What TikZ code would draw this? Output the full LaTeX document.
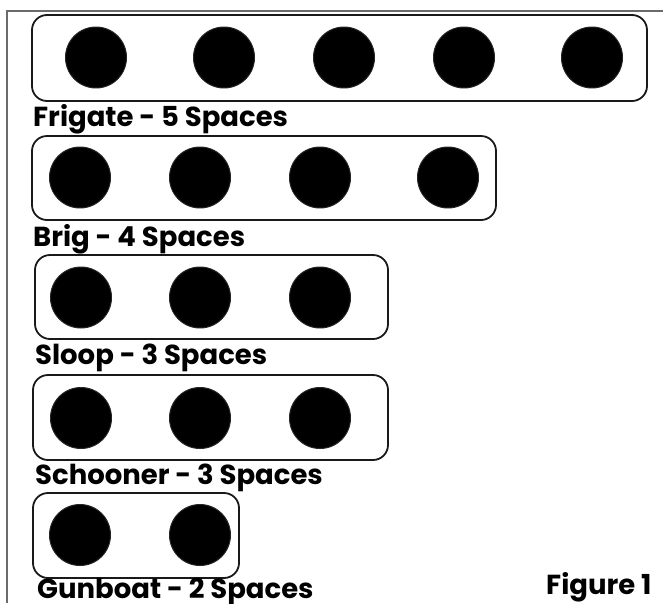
\documentclass[tikz,border=0pt]{standalone}
\usepackage{fontspec}
\setmainfont{Poppins}
\begin{document}
\begin{tikzpicture}[x=1pt,y=-1pt,
  hole/.style={circle, fill=black, draw=black!85, line width=1pt, minimum size=61pt, inner sep=0pt},
  ship/.style={draw=black!90, line width=1.8pt, rounded corners=15pt, inner sep=0pt},
  lbl/.style={anchor=base west, inner sep=0pt, font=\fontsize{27.5}{32}\selectfont\bfseries}]
\useasboundingbox (0,0) rectangle (663,603);
\coordinate (fbl) at (7,603);
\coordinate (ftl) at (7,11);
\coordinate (ftr) at (663,11);
\draw[draw=black!58, line width=2.4pt] (fbl) -- (ftl) -- (ftr);

% Frigate
\node[ship, minimum width=615pt, minimum height=86pt] (frigate) at (339.5,58) {};
\foreach \x [count=\i] in {96,224,344,464,592}
  \node[hole] (f\i) at (\x,57.5) {};
\node[lbl] (lf) at (33,126) {Frigate - 5 Spaces};

% Brig
\node[ship, minimum width=464pt, minimum height=84pt] (brig) at (264,178) {};
\foreach \x [count=\i] in {80,200,320,448}
  \node[hole] (b\i) at (\x,177.5) {};
\node[lbl] (lb) at (33,246) {Brig - 4 Spaces};

% Sloop
\node[ship, minimum width=353pt, minimum height=84pt] (sloop) at (211.5,297) {};
\foreach \x [count=\i] in {81,200,320}
  \node[hole] (s\i) at (\x,297.5) {};
\node[lbl] (ls) at (35,364) {Sloop - 3 Spaces};

% Schooner
\node[ship, minimum width=355pt, minimum height=85pt] (schooner) at (210.5,417.5) {};
\foreach \x [count=\i] in {81,200,320}
  \node[hole] (c\i) at (\x,418) {};
\node[lbl] (lc) at (35,484) {Schooner - 3 Spaces};

% Gunboat
\node[ship, minimum width=206pt, minimum height=85pt] (gunboat) at (136,535.5) {};
\foreach \x [count=\i] in {80,200}
  \node[hole] (g\i) at (\x,535) {};
\node[lbl] (lg) at (37,598) {Gunboat - 2 Spaces};

\node[lbl] (fig) at (546,594) {Figure 1};
\end{tikzpicture}
\end{document}
